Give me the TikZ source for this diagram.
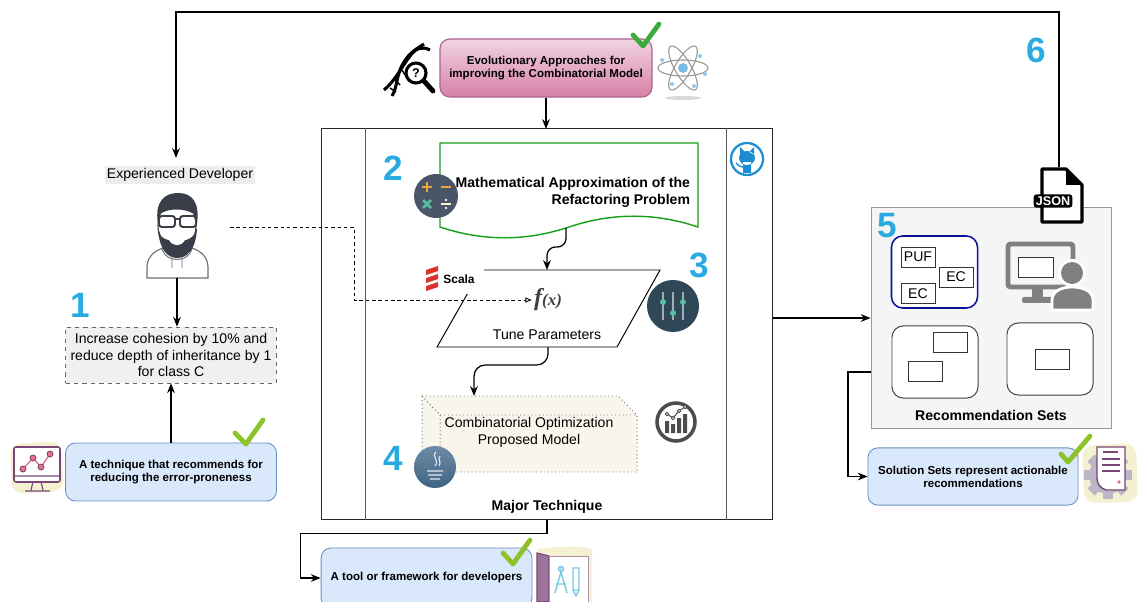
\documentclass[tikz,border=0pt]{standalone}
\usepackage{fontspec}
\setmainfont{Liberation Sans}
\newfontfamily\fxfont{Liberation Serif}
\usetikzlibrary{arrows.meta,calc}

\definecolor{numblue}{RGB}{41,171,226}
\definecolor{boxfill}{RGB}{218,232,252}
\definecolor{boxedge}{RGB}{108,142,191}
\definecolor{evotop}{RGB}{242,212,226}
\definecolor{evobot}{RGB}{214,128,166}
\definecolor{evoedge}{RGB}{170,100,140}
\definecolor{docgreen}{RGB}{20,160,20}
\definecolor{tickgreen}{RGB}{60,170,60}
\definecolor{tickyellow}{RGB}{140,195,40}
\definecolor{slate}{RGB}{74,85,104}
\definecolor{sliderbg}{RGB}{47,72,88}
\definecolor{mint}{RGB}{90,190,160}
\definecolor{calcorange}{RGB}{240,165,60}
\definecolor{javablue}{RGB}{72,110,145}
\definecolor{ghblue}{RGB}{30,140,210}
\definecolor{scalared}{RGB}{220,50,40}
\definecolor{cubefill}{RGB}{248,246,236}
\definecolor{recfill}{RGB}{245,245,245}
\definecolor{navyedge}{RGB}{10,20,150}
\definecolor{facedark}{RGB}{58,62,72}
\definecolor{paleblob}{RGB}{244,241,210}
\definecolor{iconpurple}{RGB}{120,70,120}
\definecolor{dotpink}{RGB}{235,110,130}
\definecolor{lightcyan}{RGB}{120,200,230}
\definecolor{icongray}{RGB}{128,128,128}
\definecolor{geargray}{RGB}{188,183,198}

\begin{document}
\begin{tikzpicture}[x=0.025cm,y=-0.025cm,
    arr/.style={-{Stealth[length=7pt,width=5.5pt]},line width=0.9pt},
    dasharr/.style={-{Latex[open,length=5pt,width=4pt]},line width=0.6pt,dash pattern=on 2.5pt off 2pt},
    numlbl/.style={text=numblue,font=\fontsize{25}{25}\selectfont\bfseries},
    bluebox/.style={draw=boxedge,fill=boxfill,rounded corners=7pt,line width=0.6pt,align=center,
        minimum width=5.27cm,minimum height=1.43cm,font=\fontsize{8.2}{9.5}\selectfont\bfseries},
    tick/.style={line width=3.4pt,line cap=round,line join=round},
    setbox/.style={draw=black!75,fill=white,rounded corners=8pt,line width=0.7pt,minimum width=2.15cm,minimum height=1.8cm},
    tag/.style={draw=black!80,fill=white,line width=0.5pt,minimum width=0.85cm,minimum height=0.5cm,inner sep=0pt},
  ]
  \useasboundingbox (0,0) rectangle (1141,602);

  % top part
  \node[draw=evoedge,top color=evotop,bottom color=evobot,rounded corners=7pt,line width=0.8pt,
        minimum width=5.3cm,minimum height=1.45cm,align=center,font=\fontsize{8.2}{9}\selectfont\bfseries]
        (evo) at (546,68) {Evolutionary Approaches for\\improving the Combinatorial Model};
  \draw[tick,tickgreen] (633,35) -- (643,46) -- (659,24);
  % dna and magnifier
  \draw[black,line width=2.2pt] (384,90) .. controls (396,80) and (402,66) .. (410,56) .. controls (416,48) and (422,46) .. (430,50);
  \draw[black,line width=2.2pt] (392,96) .. controls (398,86) and (396,74) .. (404,62) .. controls (410,52) and (418,48) .. (424,44);
  \draw[black,line width=1pt] (390,88) -- (396,92) (395,80) -- (400,85) (402,70) -- (405,75);
  \draw[black,line width=3.5pt,line cap=round] (424,81) -- (433,91);
  \draw[black,line width=2.2pt,fill=white] (416,73) circle (10);
  \node[font=\bfseries\small] (quest) at (416,73) {?};
  % atom
  \fill[gray!30] (683,98) ellipse (18 and 2);
  \foreach \ang in {0,60,120}
    \draw[gray!80,line width=0.8pt,rotate around={\ang:(683,68)}] (683,68) ellipse (25 and 8);
  \fill[ghblue!60] (683,68) circle (5);
  \foreach \pos in {(662,60),(700,56),(694,86),(672,84),(705,74)}
    \fill[ghblue!50] \pos circle (2);
  \draw[arr] (evo.south) -- (evo.south |- 0,129);

  % major technique
  \node[draw=black!85,line width=0.7pt,minimum width=11.25cm,minimum height=9.75cm,inner sep=0pt] (major) at (547,324) {};
  \draw[black!65,line width=0.6pt] ($(major.north west)+(44,0)$) -- ($(major.south west)+(44,0)$)
        ($(major.north east)+(-46,0)$) -- ($(major.south east)+(-46,0)$);
  \node[font=\bfseries] (majorlbl) at (547,507) {Major Technique};
  % github
  \draw[ghblue,line width=1.6pt] (747,159) circle (16);
  \fill[ghblue] (747,158) ellipse (8 and 7) (740,155) -- (740,147) -- (745,152) -- cycle (754,155) -- (754,147) -- (749,152) -- cycle
        (743,162) rectangle (751,173);
  \draw[ghblue,line width=1pt] (743,167) .. controls (739,167) and (738,164) .. (736,163);

  % problem document
  \draw[docgreen,line width=1pt,fill=white] (440,143) -- (698,143) -- (698,227)
        .. controls (655,212.6) and (612,212.6) .. (569,227)
        .. controls (526,241.4) and (483,241.4) .. (440,227) -- cycle;
  \node[font=\bfseries,align=right,anchor=east] (mathlbl) at (695,192) {Mathematical Approximation of the\\Refactoring Problem};
  \node[numlbl] (n2) at (393,168) {2};
  \node[circle,fill=slate,minimum size=1.1cm] (calcicon) at (436,196) {};
  \draw[calcorange,line width=2pt] (422,187) -- (432,187) (427,182) -- (427,192) (441,187) -- (451,187);
  \draw[mint,line width=2pt] (423,200) -- (431,208) (431,200) -- (423,208);
  \draw[white!80!calcorange,line width=1.6pt] (441,204) -- (451,204);
  \fill[white!80!calcorange] (446,200) circle (1.4) (446,208) circle (1.4);
  \coordinate (docout) at (566,228);

  % tune parameters
  \draw[black,line width=0.7pt,fill=white] (481,270) -- (660,270) -- (617,347) -- (437,347) -- cycle;
  \coordinate (paramin) at (547,270);
  \coordinate (paramout) at (548,347);
  \fill[white] (440,262) rectangle (484,294);
  \fill[scalared] (426,270) -- (438,266) -- (438,271) -- (426,275) -- cycle
        (426,278) -- (438,274) -- (438,279) -- (426,283) -- cycle
        (426,286) -- (438,282) -- (438,287) -- (426,291) -- cycle;
  \node[font=\fontsize{8.5}{10}\selectfont\bfseries] (scala) at (459,279) {Scala};
  \node[text=black!75,inner sep=1pt,font=\fxfont\bfseries\itshape] (fx) at (548,300) {{\LARGE f}{\large(x)}};
  \node (tune) at (547,335) {Tune Parameters};
  \node[numlbl] (n3) at (699,265) {3};
  \node[circle,fill=sliderbg,minimum size=1.3cm] (slider) at (673,306) {};
  \draw[white!55!sliderbg,line width=0.8pt] (663,292) -- (663,320) (673,292) -- (673,320) (683,292) -- (683,320);
  \fill[mint] (663,302) circle (3) (673,313) circle (3) (683,302) circle (3);
  \draw[arr,rounded corners=6pt] (docout) -- ++(0,19) -| (paramin);

  % combinatorial model
  \draw[black!55,dotted,line width=0.7pt,fill=cubefill] (422,396) -- (618,396) -- (637,415) -- (637,472) -- (422,472) -- cycle;
  \draw[black!55,dotted,line width=0.7pt] (422,396) -- (440,415) -- (637,415) (440,415) -- (440,472);
  \node[align=center] (combo) at (529,432) {Combinatorial Optimization\\Proposed Model};
  \coordinate (comboin) at (474,396);
  \draw[arr,rounded corners=8pt] (paramout) -- ++(0,18) -| (comboin);
  \node[numlbl] (n4) at (393,458) {4};
  \node[circle,top color=javablue!80!white,bottom color=javablue!90!black,minimum size=1.05cm] (java) at (435,467) {};
  \draw[white!85!javablue,line width=0.8pt] (427,471) -- (443,471) (428,475) -- (442,475) (430,479) -- (440,479)
        (436,452) .. controls (431,457) and (440,460) .. (435,466) (440,456) .. controls (437,459) and (442,462) .. (439,466);
  \draw[black!70,line width=2.5pt,fill=white] (676,422) circle (19);
  \fill[black!70] (665,421) rectangle (669,433) (671,424) rectangle (675,433) (677,418) rectangle (681,433) (683,414) rectangle (687,433);
  \draw[black!70,line width=0.7pt] (667,414) -- (673,418) -- (679,411) -- (685,407);
  \foreach \pos in {(667,414),(673,418),(679,411),(685,407)}
    \draw[black!70,fill=white,line width=0.6pt] \pos circle (1.8);

  % tool box
  \node[bluebox,minimum height=1.5cm] (tool) at (426.5,578) {A tool or framework for developers};
  \draw[tick,tickyellow] (503,553) -- (513,564) -- (530,540);
  \fill[paleblob] (537,549) .. controls (560,546) and (585,545) .. (592,550) -- (592,602) -- (537,602) -- cycle;
  \draw[iconpurple,line width=0.8pt,fill=iconpurple!75] (537,553) -- (549,556) -- (549,602) -- (537,602) -- cycle;
  \draw[iconpurple!60,line width=0.6pt,fill=white] (549,556) -- (588,556) -- (588,602) -- (549,602) -- cycle;
  \draw[lightcyan,line width=1pt] (561,566) -- (561,572) (561,572) -- (555,593) (561,572) -- (567,593) (556,584) -- (566,584);
  \draw[lightcyan,line width=1pt] (561,569) circle (2.5);
  \draw[lightcyan,line width=1pt] (573,568) rectangle (579,590) (573,590) -- (576,596) -- (579,590);
  \draw[arr] (major.south) -- ++(0,14) -| ($(tool.west)+(-20,0)$) -- (tool.west);

  % developer
  \node[fill=black!7,inner sep=1.5pt] (devlbl) at (180,175) {Experienced Developer};
  \coordinate (devin) at (176,158);
  \node[minimum width=1.55cm,minimum height=2.1cm,inner sep=0pt] (dev) at (177,236) {};
  \draw[facedark!75,line width=0.8pt,fill=white] (147,278) -- (147,266) .. controls (148,254) and (158,249) .. (167,247) -- (188,247)
        .. controls (197,249) and (207,254) .. (208,266) -- (208,278) -- cycle;
  \draw[facedark!75,line width=0.7pt] (162,249) .. controls (166,263) and (188,263) .. (192,249) (172,258) -- (172,268) (182,258) -- (182,268);
  \draw[facedark,line width=0.8pt,fill=white] (177,226) ellipse (19 and 26);
  \fill[facedark] (158,224) .. controls (154,200) and (166,193) .. (178,193) .. controls (192,193) and (200,202) .. (197,224)
        -- (194,214) .. controls (185,208) and (168,208) .. (160,214) -- cycle;
  \fill[facedark] (158,228) .. controls (159,250) and (168,258) .. (177,258) .. controls (187,258) and (196,250) .. (197,228)
        -- (193,236) .. controls (187,243) and (167,243) .. (161,236) -- cycle;
  \fill[white] (169,240) .. controls (173,247) and (181,247) .. (185,240) -- cycle;
  \draw[facedark,line width=1.4pt,rounded corners=2pt] (159,216) rectangle (175,227) (180,216) rectangle (196,227);
  \draw[facedark,line width=1.4pt] (175,219) -- (180,219);
  \draw[dasharr] (230,227) -- (354,227) |- (fx.west);

  % goal and technique
  \node[numlbl] (n1) at (80,305) {1};
  \node[draw=black!60,dashed,fill=black!6,align=center,minimum width=5.27cm,minimum height=1.4cm,inner sep=1pt] (goal) at (171,355)
        {Increase cohesion by 10\% and\\reduce depth of inheritance by 1\\for class C};
  \draw[arr] (dev.south) -- (dev.south |- goal.north);
  \node[bluebox,minimum height=1.45cm] (technique) at (171,472) {A technique that recommends for\\reducing the error-proneness};
  \draw[tick,tickyellow] (235,433) -- (246,444) -- (263,420);
  \draw[arr] (technique.north) -- (goal.south);
  \fill[paleblob,rounded corners=8pt] (10,444) -- (61,441) -- (64,491) -- (12,494) -- cycle;
  \draw[iconpurple,line width=1.1pt,fill=white,rounded corners=1.5pt] (14,447) rectangle (60,482);
  \draw[iconpurple,line width=0.8pt] (14,476) -- (60,476) (33,482) -- (31,490) (41,482) -- (43,490) (25,491) -- (50,491);
  \draw[dotpink!80!iconpurple,line width=0.8pt] (23,469) -- (33,458) -- (41,467) -- (50,454);
  \foreach \pos in {(23,469),(33,458),(41,467),(50,454)}
    \draw[iconpurple,fill=dotpink,line width=0.6pt] \pos circle (3);

  % recommendation sets
  \node[draw=black!40,fill=recfill,line width=0.7pt,minimum width=6.02cm,minimum height=5.5cm,inner sep=0pt] (rec) at (991.5,318) {};
  \node[font=\bfseries] (reclbl) at (991,415) {Recommendation Sets};
  \node[numlbl] (n5) at (887,226) {5};
  \node[setbox,draw=navyedge,line width=1.1pt] (setA) at (934.5,272) {};
  \node[tag] (puf) at (918,257) {PUF};
  \node[tag] (ecA) at (956,277) {EC};
  \node[tag] (ecB) at (918,293.5) {EC};
  \node[setbox] (setB) at (935,362) {};
  \node[tag] (slotA) at (950,342) {};
  \node[tag] (slotB) at (925.5,371.5) {};
  \node[setbox] (setC) at (1050,359) {};
  \node[tag] (slotC) at (1052,359) {};
  \draw[icongray,line width=3.5pt,rounded corners=2pt] (1008,244) rectangle (1073,287);
  \draw[black!80,fill=white,line width=0.5pt] (1018,257) rectangle (1053,277);
  \fill[icongray] (1032,288) rectangle (1043,298);
  \fill[icongray,rounded corners=1.5pt] (1022,297) rectangle (1056,303);
  \fill[white] (1072,273) circle (14);
  \fill[icongray] (1072,273) circle (11);
  \draw[white,line width=2pt,fill=icongray] (1052,310) -- (1052,300) .. controls (1052,291) and (1062,287) .. (1072,287)
        .. controls (1083,287) and (1093,291) .. (1093,300) -- (1093,310) -- cycle;
  \draw[arr] (rec.west -| major.east) -- (rec.west);

  % json feedback
  \draw[black,line width=2.4pt,fill=white,line join=round] (1042,169) -- (1066,169) -- (1082,185) -- (1082,222) -- (1042,222) -- cycle;
  \fill[black] (1066,169) -- (1066,185) -- (1082,185) -- cycle;
  \node[fill=black,text=white,rounded corners=2pt,inner sep=1.5pt,font=\fontsize{9}{9}\selectfont\bfseries] (jsonlbl) at (1053,201) {JSON};
  \coordinate (jsontop) at (1059,167);
  \coordinate (loopy) at (0,12);
  \node[numlbl] (n6) at (1036,50) {6};
  \draw[arr] (jsontop) -- (jsontop |- loopy) -| (devin);

  % solution sets
  \node[bluebox,font=\fontsize{8.2}{9.3}\selectfont\bfseries,minimum width=5.25cm] (sol) at (973,476.5) {Solution Sets represent actionable\\recommendations};
  \draw[tick,tickyellow] (1061,454) -- (1068,462) -- (1090,436);
  \draw[arr] (rec.west |- 0,372) -- (848,372) |- (sol.west);
  \fill[paleblob,rounded corners=8pt] (1082,446) -- (1136,443) -- (1138,502) -- (1084,503) -- cycle;
  \fill[geargray] (1108,475) circle (19);
  \foreach \ang in {0,45,...,315}
    \fill[geargray,rotate around={\ang:(1108,475)}] (1103,451) rectangle (1113,458);
  \fill[paleblob!40!white] (1108,475) circle (10);
  \draw[iconpurple,line width=1pt,fill=white] (1097,447) -- (1125,447) -- (1125,490) -- (1106,490) .. controls (1100,488) and (1097,484) .. (1097,478) -- cycle;
  \draw[iconpurple,line width=1pt] (1103,452) -- (1118,452) (1102,459) -- (1120,459) (1102,465) -- (1120,465) (1102,471) -- (1120,471);
  \fill[dotpink] (1119,482) circle (1.8);
\end{tikzpicture}
\end{document}
